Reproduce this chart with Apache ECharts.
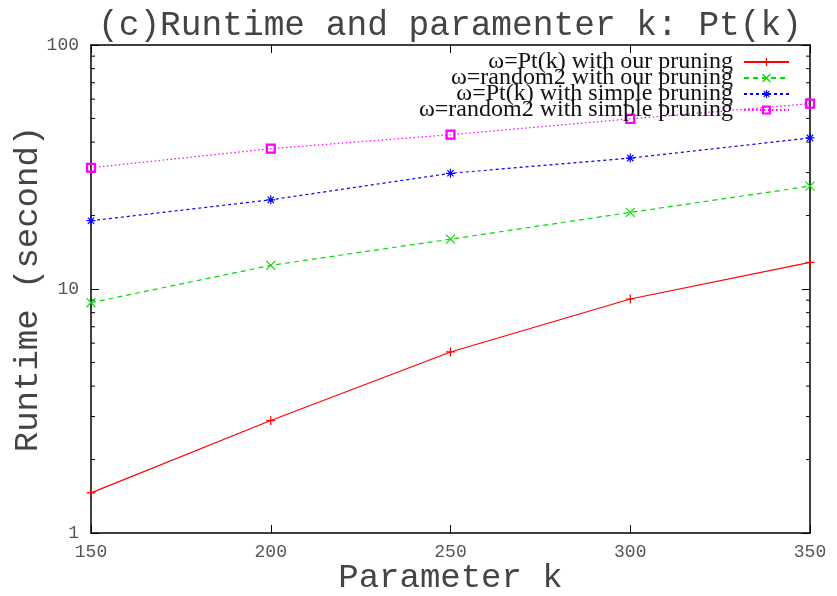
<!DOCTYPE html>
<html>
<head>
<meta charset="utf-8">
<script src="https://cdn.jsdelivr.net/npm/echarts@6/dist/echarts.min.js"></script>
<style>
  html, body { margin: 0; padding: 0; background: #fff; }
  #chart { width: 837px; height: 596px; }
</style>
</head>
<body>
<div id="chart"></div>
<script>
// Parameter k values on the x axis
var kValues = [150, 200, 250, 300, 350];

// Runtime in seconds for each configuration
var ptOurPruning      = [1.46, 2.89, 5.52, 9.10, 12.85];
var randomOurPruning  = [8.79, 12.5, 16.0, 20.6, 26.4];
var ptSimplePruning   = [19.05, 23.2, 29.8, 34.4, 41.6];
var randomSimplePrune = [31.4, 37.6, 42.9, 49.8, 57.5];

var seriesNames = [
  'ω=Pt(k) with our pruning',
  'ω=random2 with our pruning',
  'ω=Pt(k) with simple pruning',
  'ω=random2 with simple pruning'
];

// Minor tick positions of the logarithmic y axis
var minorTickValues = [2, 3, 4, 5, 6, 7, 8, 9, 20, 30, 40, 50, 60, 70, 80, 90];

var xTicks = { min: 150, max: 350, interval: 50 };

function pairs(vals) {
  return kValues.map(function (k, i) { return [k, vals[i]]; });
}

var SYM_PLUS = 'path://M0,5L10,5M5,0L5,10';
var SYM_CROSS = 'path://M0,0L10,10M0,10L10,0';
var SYM_STAR = 'path://M0,5L10,5M5,0L5,10M1.5,1.5L8.5,8.5M1.5,8.5L8.5,1.5';
var SYM_BOX = 'path://M0,0L10,0L10,10L0,10ZM1.2,1.2L1.2,8.8L8.8,8.8L8.8,1.2Z';

function lineSeries(name, vals, color, symbol, dash) {
  return {
    name: name,
    type: 'line',
    data: pairs(vals),
    symbol: symbol,
    symbolSize: 9,
    showAllSymbol: true,
    itemStyle: { color: color, borderColor: color, borderWidth: 1.2 },
    lineStyle: { color: color, width: 1.2, type: dash },
    emphasis: { disabled: true },
    animation: false,
    z: 3
  };
}

var monoFont = 'Liberation Mono';
var textGrey = '#444';
var chart = echarts.init(document.getElementById('chart'), null, { renderer: 'canvas' });

chart.setOption({
  animation: false,
  backgroundColor: '#ffffff',
  title: {
    text: '(c)Runtime and paramenter k: Pt(k)',
    left: 93,
    top: 3,
    textStyle: { fontFamily: monoFont, fontSize: 34.5, fontWeight: 'normal', color: textGrey }
  },
  legend: {
    data: seriesNames,
    orient: 'vertical',
    right: 47,
    top: 50,
    align: 'right',
    itemWidth: 45,
    itemHeight: 10,
    itemGap: -8,
    padding: 0,
    itemStyle: { borderWidth: 1.2 },
    textStyle: {
      fontFamily: 'Liberation Serif',
      fontSize: 24,
      color: '#111',
      padding: [0, 6, 0, 0]
    },
    selectedMode: false
  },
  grid: { left: 91, right: 27, top: 45, bottom: 63, containLabel: false, outerBoundsMode: 'none' },
  xAxis: [
    {
      type: 'value',
      position: 'bottom',
      min: xTicks.min, max: xTicks.max, interval: xTicks.interval,
      name: 'Parameter k',
      nameLocation: 'middle',
      nameGap: 28,
      nameMoveOverlap: false,
      nameTextStyle: { fontFamily: monoFont, fontSize: 34, color: textGrey },
      axisLine: { show: true, lineStyle: { color: '#000', width: 1.5 } },
      axisTick: { show: true, inside: true, length: 8, lineStyle: { color: '#000', width: 1 } },
      axisLabel: { fontFamily: monoFont, fontSize: 18, color: '#555', margin: 10 },
      splitLine: { show: false }
    },
    {
      type: 'value',
      position: 'top',
      min: xTicks.min, max: xTicks.max, interval: xTicks.interval,
      axisLine: { show: true, lineStyle: { color: '#000', width: 1.5 } },
      axisTick: { show: true, inside: true, length: 8, lineStyle: { color: '#000', width: 1 } },
      axisLabel: { show: false },
      splitLine: { show: false }
    }
  ],
  yAxis: [
    {
      type: 'log',
      logBase: 10,
      position: 'left',
      min: 1, max: 100,
      name: 'Runtime (second)',
      nameLocation: 'middle',
      nameGap: 46,
      nameMoveOverlap: false,
      nameTextStyle: { fontFamily: monoFont, fontSize: 34, color: textGrey },
      axisLine: { show: true, lineStyle: { color: '#000', width: 1.5 } },
      axisTick: { show: true, inside: true, length: 8, lineStyle: { color: '#000', width: 1 } },
      axisLabel: { fontFamily: monoFont, fontSize: 18, color: '#555', margin: 12 },
      splitLine: { show: false },
      minorTick: { show: false }
    },
    {
      type: 'log',
      logBase: 10,
      position: 'right',
      min: 1, max: 100,
      axisLine: { show: true, lineStyle: { color: '#000', width: 1.5 } },
      axisTick: { show: true, inside: true, length: 8, lineStyle: { color: '#000', width: 1 } },
      axisLabel: { show: false },
      splitLine: { show: false }
    }
  ],
  series: [
    lineSeries(seriesNames[0], ptOurPruning, '#ff0000', SYM_PLUS, 'solid'),
    lineSeries(seriesNames[1], randomOurPruning, '#00dd00', SYM_CROSS, [5, 4]),
    lineSeries(seriesNames[2], ptSimplePruning, '#0000ff', SYM_STAR, [3, 3]),
    lineSeries(seriesNames[3], randomSimplePrune, '#ff00ff', SYM_BOX, [1.5, 2.5]),
    {
      // minor ticks on both vertical edges, placed by the log scale
      type: 'custom',
      silent: true,
      animation: false,
      data: minorTickValues.map(function (v) { return [xTicks.min, v]; }),
      renderItem: function (params, api) {
        var v = api.value(1);
        var left = api.coord([xTicks.min, v]);
        var right = api.coord([xTicks.max, v]);
        var len = 4;
        var style = { stroke: '#000', lineWidth: 1 };
        return {
          type: 'group',
          children: [
            { type: 'line', shape: { x1: left[0], y1: left[1], x2: left[0] + len, y2: left[1] }, style: style },
            { type: 'line', shape: { x1: right[0], y1: right[1], x2: right[0] - len, y2: right[1] }, style: style }
          ]
        };
      },
      z: 2
    }
  ]
});
</script>
</body>
</html>
